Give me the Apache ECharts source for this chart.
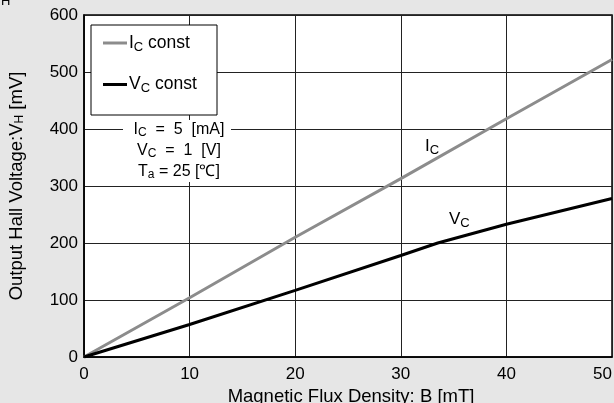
<!doctype html>
<html>
<head>
<meta charset="UTF-8">
<title>Hall voltage vs flux density</title>
<script src="https://cdn.jsdelivr.net/npm/echarts@6/dist/echarts.min.js"></script>
<style>
  html, body { margin: 0; padding: 0; background: #e6e6e6; }
  #main { width: 614px; height: 403px; }
</style>
</head>
<body>
<div id="main"></div>
<script>
    // data
    var fluxIc = [0, 10, 20, 30, 40, 50];
    var icConst = [0, 104, 210, 313, 418, 522];
    var fluxVc = [0, 10, 20, 30, 33.5, 40, 50];
    var vcConst = [0, 57, 117, 178, 200, 233, 278];

    function pairs(xs, ys) {
        var out = [];
        for (var i = 0; i < xs.length; i++) out.push([xs[i], ys[i]]);
        return out;
    }

    var font = 'Liberation Sans, Arial, sans-serif';

    function richSet(big, small, drop, key) {
        var r = {};
        r.a = { fontSize: big, fontFamily: font };
        r.s = { fontSize: small, fontFamily: font, padding: [drop, 0, 0, 0] };
        r.a[key] = '#000';
        r.s[key] = '#000';
        return r;
    }

    var myChart = echarts.init(document.getElementById('main'));
    var option = {
        backgroundColor: '#e6e6e6',
        animation: false,
        textStyle: { fontFamily: font },
        grid: {
            left: 84, right: 2, top: 15, bottom: 46,
            outerBoundsMode: 'none',
            containLabel: false,
            show: true, backgroundColor: '#fff', borderColor: '#000', borderWidth: 1.5
        },
        legend: {
            orient: 'vertical',
            left: 103, top: 34,
            padding: 0,
            z: 60,
            itemGap: 22,
            itemWidth: 24, itemHeight: 3,
            icon: 'rect',
            data: ['Ic', 'Vc'],
            formatter: function (name) {
                return name == 'Ic' ? '{a|I}{s|C}{a| const}' : '{a|V}{s|C}{a| const}';
            },
            textStyle: {
                padding: [0, 0, 0, -3],
                rich: richSet(17.5, 13, 8, 'color')
            }
        },
        xAxis: {
            type: 'value', min: 0, max: 50, interval: 10,
            name: 'Magnetic Flux Density: B [mT]',
            nameLocation: 'middle', nameGap: 30,
            nameTextStyle: { fontSize: 18.5, color: '#000', padding: [0, 0, 0, 6] },
            axisLine: { show: true, lineStyle: { color: '#000', width: 1.5 } },
            axisTick: { show: false },
            axisLabel: { fontSize: 17, color: '#000', margin: 9, alignMaxLabel: 'right' },
            splitLine: { lineStyle: { color: '#222', width: 1 } }
        },
        yAxis: {
            type: 'value', min: 0, max: 600, interval: 100,
            name: '{a|Output Hall Voltage:V}{s|H}{a| [mV]}',
            nameLocation: 'middle', nameGap: 58, nameRotate: 90,
            nameTextStyle: { rich: richSet(18.5, 12, 7, 'color') },
            axisLine: { show: true, lineStyle: { color: '#000', width: 1.5 } },
            axisTick: { show: false },
            axisLabel: { fontSize: 17, color: '#000', margin: 6 },
            splitLine: { lineStyle: { color: '#222', width: 1 } }
        },
        graphic: [
            {
                type: 'text', left: 1, top: -5,
                style: { text: 'H', font: '13px ' + font, fill: '#000' }
            },
            {
                // legend frame
                type: 'rect', shape: { x: 91, y: 25, width: 126, height: 90 },
                style: { fill: '#fff', stroke: '#000', lineWidth: 1 }, z: 40
            },
            {
                type: 'rect', shape: { x: 123, y: 120, width: 108, height: 62 },
                style: { fill: '#fff' }, z: 50
            },
            {
                type: 'text', x: 179, y: 119, z: 51,
                style: {
                    text: '{a|I}{s|C}{a|  =  5  [mA]}\n{a|V}{s|C}{a|  =  1  [V]}\n{a|T}{s|a}{a| = 25 [\u2103]}',
                    align: 'center', lineHeight: 21,
                    rich: {
                        a: { fontSize: 16, fontFamily: font, fill: '#000', lineHeight: 21 },
                        s: { fontSize: 12, fontFamily: font, fill: '#000', padding: [7, 0, 0, 0], lineHeight: 21 }
                    }
                }
            },
            {
                type: 'text', x: 425, y: 136, z: 51,
                style: { text: '{a|I}{s|C}', rich: richSet(17, 13, 8, 'fill') }
            },
            {
                type: 'text', x: 449, y: 209, z: 51,
                style: { text: '{a|V}{s|C}', rich: richSet(17, 13, 8, 'fill') }
            }
        ],
        series: [
            {
                name: 'Ic', type: 'line', symbol: 'none',
                color: '#8c8c8c',
                lineStyle: { color: '#8c8c8c', width: 3 },
                data: pairs(fluxIc, icConst), z: 3
            },
            {
                name: 'Vc', type: 'line', symbol: 'none',
                color: '#000',
                lineStyle: { color: '#000', width: 3 },
                data: pairs(fluxVc, vcConst), z: 3
            }
        ]
    };
    myChart.setOption(option);
</script>
</body>
</html>
